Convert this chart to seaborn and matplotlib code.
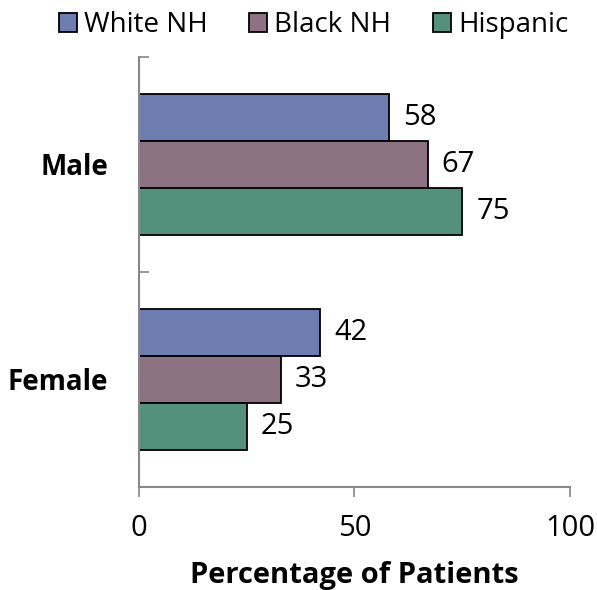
import matplotlib
matplotlib.use("Agg")
import matplotlib.pyplot as plt
import seaborn as sns
import pandas as pd
from matplotlib.ticker import FixedLocator

sexes = ["Male", "Female"]
groups = ["White NH", "Black NH", "Hispanic"]
white_nh = [58, 42]
black_nh = [67, 33]
hispanic = [75, 25]
colors = ["#6e7db0", "#8c7282", "#54917c"]
x_ticks = [0, 50, 100]

df = pd.DataFrame({
    "Sex": sexes * 3,
    "Group": [g for g in groups for _ in sexes],
    "Pct": white_nh + black_nh + hispanic,
})

sns.set_style("white")
plt.rcParams["font.family"] = ["Open Sans", "DejaVu Sans"]
plt.rcParams["text.color"] = "black"
plt.rcParams["axes.labelcolor"] = "black"
plt.rcParams["xtick.labelcolor"] = "black"
plt.rcParams["ytick.labelcolor"] = "black"

FS = 21

fig = plt.figure(figsize=(5.97, 5.9), dpi=100)
ax = fig.add_axes([0.2328, 0.1746, 0.722, 0.7288])

sns.barplot(data=df, y="Sex", x="Pct", hue="Group", order=sexes,
            hue_order=groups, palette=colors, orient="h", width=0.66,
            edgecolor="black", linewidth=1.3, saturation=1, ax=ax)

for cont in ax.containers:
    ax.bar_label(cont, fmt="%g", padding=10, fontsize=FS, color="black")

ax.set_xlim(0, 100)
ax.set_ylim(1.5, -0.5)
ax.set_xticks(x_ticks)
ax.tick_params(axis="x", bottom=True, labelsize=FS, length=7.2, width=1.2,
               color="#888888", labelcolor="black", direction="out", pad=12)
ax.tick_params(axis="y", which="major", left=False, length=0,
               labelsize=20, labelcolor="black", pad=22)
ax.yaxis.set_minor_locator(FixedLocator([-0.5, 0.5, 1.5]))
ax.tick_params(axis="y", which="minor", left=True, length=7, width=1.2,
               color="#888888", direction="in")
for lab in ax.get_yticklabels():
    lab.set_fontweight("bold")

ax.set_ylabel("")
ax.set_xlabel("Percentage of Patients", fontsize=FS, fontweight="bold",
              color="black", labelpad=13)

for side in ["top", "right"]:
    ax.spines[side].set_visible(False)
for side in ["left", "bottom"]:
    ax.spines[side].set_color("#888888")
    ax.spines[side].set_linewidth(1.5)

handles, labels = ax.get_legend_handles_labels()
leg = ax.legend(handles, labels, loc="center", bbox_to_anchor=(0.405, 1.074),
                ncol=3, frameon=False, fontsize=20, handlelength=0.65,
                handleheight=0.65, handletextpad=0.25, columnspacing=1.5,
                borderpad=0, borderaxespad=0)
for t in leg.get_texts():
    t.set_color("black")

fig.savefig("out.png", dpi=100)
